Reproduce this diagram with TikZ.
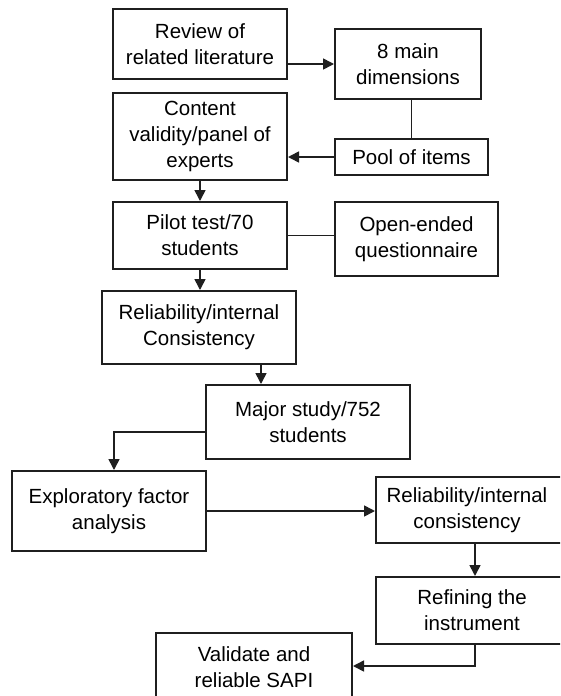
\documentclass[tikz,border=0pt]{standalone}
\usepackage{fontspec}
\setmainfont{Liberation Sans}
\usetikzlibrary{arrows.meta}
\begin{document}
\begin{tikzpicture}[x=1pt,y=-1pt,
  box/.style={draw=black!88, line width=2pt, inner sep=0pt, align=center,
    font=\fontsize{20.5}{26}\selectfont},
  txt/.style={inner sep=0pt, align=center, font=\fontsize{20.5}{26}\selectfont},
  conn/.style={draw=black!88, line width=1.6pt},
  arr/.style={conn, -{Triangle[length=11pt,width=11pt]}}]
\useasboundingbox (0,0) rectangle (560,696);
\fill[white] (0,0) rectangle (560,696);
\begin{scope}
\clip (0,0) rectangle (560,696);
\node[box, minimum width=174pt, minimum height=70pt] (lit) at (200,44) {Review of\\related literature};
\node[box, minimum width=146pt, minimum height=70pt] (dim) at (408,64) {8 main\\dimensions};
\node[box, minimum width=153pt, minimum height=36pt] (pool) at (411.5,157) {Pool of items};
\node[box, minimum width=174pt, minimum height=87pt] (content) at (200,136.5) {Content\\validity/panel of\\experts};
\node[box, minimum width=174pt, minimum height=67pt] (pilot) at (200,235.5) {Pilot test/70\\students};
\node[box, minimum width=163pt, minimum height=74pt] (open) at (416.5,239) {Open-ended\\questionnaire};
\node[box, minimum width=194pt, minimum height=73pt] (rel1) at (199,327.5) {Reliability/internal\\Consistency};
\node[box, minimum width=204pt, minimum height=74pt] (major) at (308,422) {Major study/752\\students};
\node[box, minimum width=194pt, minimum height=80pt] (efa) at (109,511) {Exploratory factor\\analysis};
\node[box, minimum width=200pt, minimum height=66pt] (rel2) at (476,510) {};
\node[txt] (rel2t) at (467,510) {Reliability/internal\\consistency};
\node[box, minimum width=200pt, minimum height=67pt] (refine) at (476,610.5) {};
\node[txt] (refinet) at (472,610.5) {Refining the\\instrument};
\node[box, minimum width=196pt, minimum height=80pt] (valid) at (254,673) {};
\node[txt] (validt) at (254,667) {Validate and\\reliable SAPI};
\end{scope}
\coordinate (c1) at (261,0);
\coordinate (c2) at (114,432);
\coordinate (c3) at (475,0);
\coordinate (c4) at (0,666);
\draw[arr] (lit.east |- dim.west) -- (dim.west);
\draw[conn] (pool.north) -- (pool.north |- dim.south);
\draw[arr] (pool.west) -- (content.east |- pool.west);
\draw[arr] (content.south) -- (pilot.north);
\draw[conn] (pilot.east) -- (open.west |- pilot.east);
\draw[arr] (pilot.south) -- (pilot.south |- rel1.north);
\draw[arr] (rel1.south -| c1) -- (major.north -| c1);
\draw[arr] (major.west |- c2) -| (efa.north -| c2);
\draw[arr] (efa.east) -- (rel2.west |- efa.east);
\draw[arr] (rel2.south -| c3) -- (refine.north -| c3);
\draw[arr] (refine.south -| c3) |- (valid.east |- c4);
\end{tikzpicture}
\end{document}
